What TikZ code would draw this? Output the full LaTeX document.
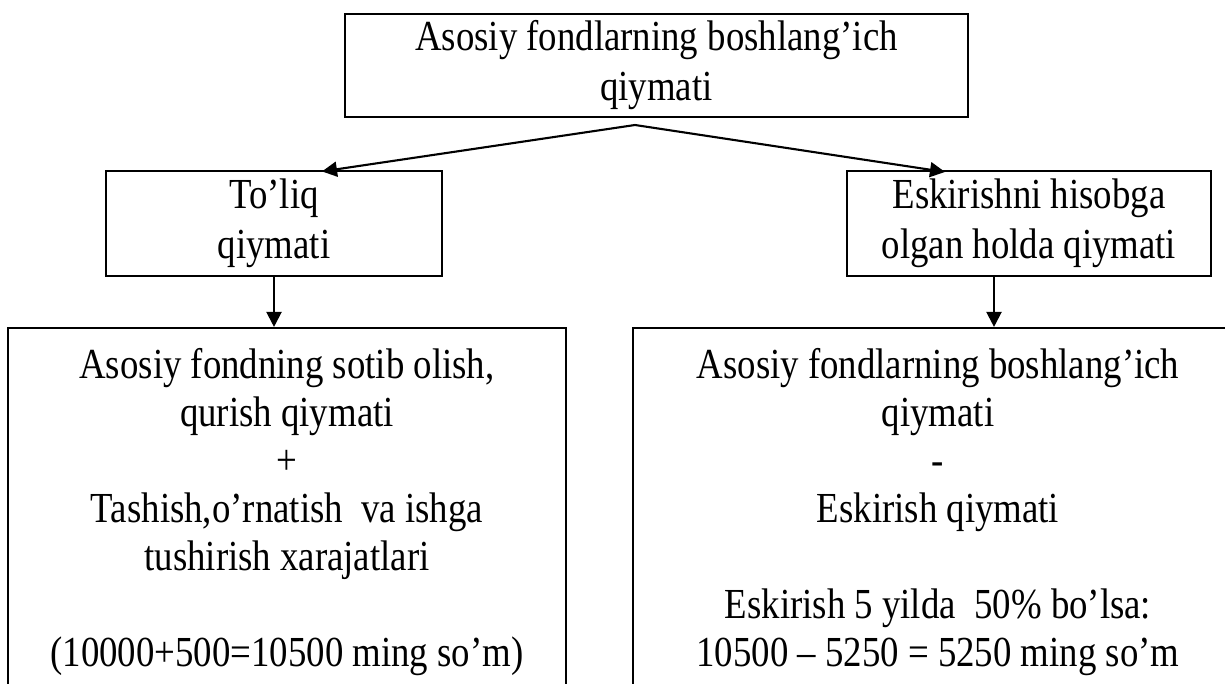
\documentclass[tikz,border=0pt]{standalone}
\usepackage{fontspec}
\setmainfont{Liberation Serif}[FakeStretch=0.86]
\usetikzlibrary{arrows.meta,calc}
\begin{document}
\begin{tikzpicture}[x=1bp,y=-1bp,
  box/.style={draw, line width=2.1bp, inner sep=0pt, align=center,
    font=\fontsize{42.8bp}{50bp}\selectfont},
  txt/.style={align=center, inner sep=0pt,
    font=\fontsize{42.8bp}{48bp}\selectfont},
  arr/.style={line width=2.1bp, -{Triangle[length=15bp,width=15bp]}}]
\useasboundingbox (0,0) rectangle (1225,684);
\clip (0,0) rectangle (1225,684);
\node[box, minimum width=623bp, minimum height=103bp] (top) at (656.5,65.5)
  {Asosiy fondlarning boshlang’ich\\qiymati};
\node[box, minimum width=336bp, minimum height=105bp] (ml) at (274,223.5)
  {To’liq\\qiymati};
\node[box, minimum width=364bp, minimum height=105bp] (mr) at (1029,223.5)
  {Eskirishni hisobga\\olgan holda qiymati};
\node[box, minimum width=558bp, minimum height=432bp] (bl) at (287,544) {};
\node[box, minimum width=627bp, minimum height=432bp] (br) at (946.5,544) {};
\node[txt] (blt) at (287,512)
  {Asosiy fondning sotib olish,\\qurish qiymati\\+\\Tashish,o’rnatish \ va ishga\\tushirish xarajatlari\\[48bp](10000+500=10500 ming so’m)};
\node[txt] (brt) at (938,512)
  {Asosiy fondlarning boshlang’ich\\qiymati\\-\\Eskirish qiymati\\[48bp]Eskirish 5 yilda \ 50\% bo’lsa:\\10500 – 5250 = 5250 ming so’m};
\coordinate (apex) at (635,125);
\draw[arr] (apex) -- ([xshift=48bp,yshift=-1.5bp]ml.north);
\draw[arr] (apex) -- ([xshift=-84bp,yshift=-2bp]mr.north);
\draw[arr] (ml.south) -- (ml.south |- bl.north);
\draw[arr] ([xshift=-35bp]mr.south) -- ([xshift=-35bp]mr.south |- br.north);
\end{tikzpicture}
\end{document}
